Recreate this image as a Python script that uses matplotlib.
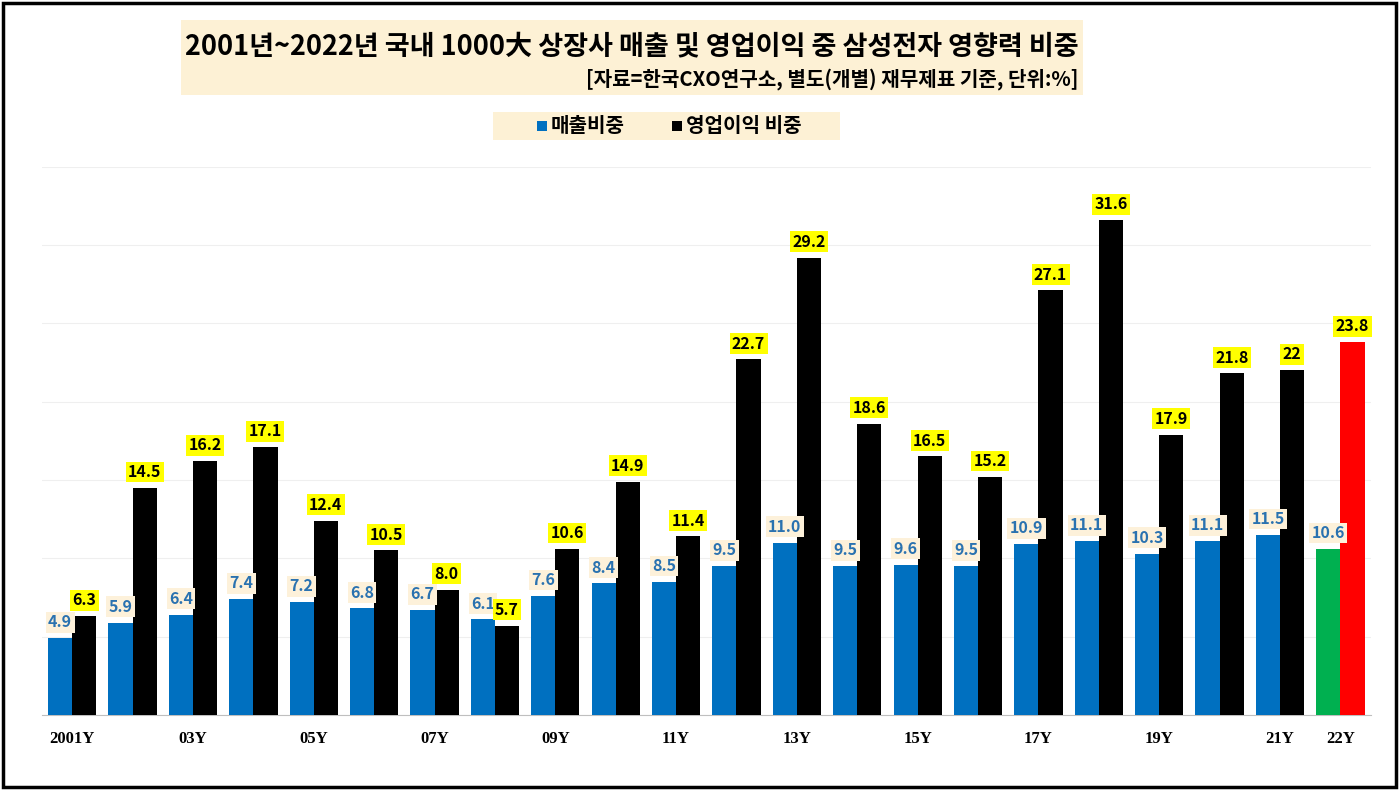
import matplotlib.pyplot as plt
from matplotlib.patches import Rectangle
import numpy as np

plt.rcParams['font.family'] = ['Noto Sans CJK KR', 'DejaVu Sans']

years = ['2001Y', '', '03Y', '', '05Y', '', '07Y', '', '09Y', '', '11Y', '',
         '13Y', '', '15Y', '', '17Y', '', '19Y', '', '21Y', '22Y']
sales_share = [4.9, 5.9, 6.4, 7.4, 7.2, 6.8, 6.7, 6.1, 7.6, 8.4, 8.5, 9.5,
               11.0, 9.5, 9.6, 9.5, 10.9, 11.1, 10.3, 11.1, 11.5, 10.6]
profit_share = [6.3, 14.5, 16.2, 17.1, 12.4, 10.5, 8.0, 5.7, 10.6, 14.9, 11.4, 22.7,
                29.2, 18.6, 16.5, 15.2, 27.1, 31.6, 17.9, 21.8, 22, 23.8]
sales_labels = ['4.9', '5.9', '6.4', '7.4', '7.2', '6.8', '6.7', '6.1', '7.6', '8.4', '8.5', '9.5',
                '11.0', '9.5', '9.6', '9.5', '10.9', '11.1', '10.3', '11.1', '11.5', '10.6']
profit_labels = ['6.3', '14.5', '16.2', '17.1', '12.4', '10.5', '8.0', '5.7', '10.6', '14.9', '11.4', '22.7',
                 '29.2', '18.6', '16.5', '15.2', '27.1', '31.6', '17.9', '21.8', '22', '23.8']

fig = plt.figure(figsize=(14, 7.9), dpi=100)
ax = fig.add_axes([0.03, 0.095, 0.949, 0.694])

x = np.arange(len(years))
w = 0.4
blue = ['#0070C0'] * (len(x) - 1) + ['#00B050']
black = ['#000000'] * (len(x) - 1) + ['#FF0000']

ax.bar(x - w / 2, sales_share, w, color=blue, zorder=3)
ax.bar(x + w / 2, profit_share, w, color=black, zorder=3)

for i in x:
    ax.text(i - w / 2, sales_share[i] + 0.5, sales_labels[i], ha='center', va='bottom',
            fontsize=11.5, fontweight='bold', color='#2A72B0', zorder=4,
            bbox=dict(boxstyle='square,pad=0.15', fc='#FDF1DA', ec='none'))
    ax.text(i + w / 2, profit_share[i] + 0.5, profit_labels[i], ha='center', va='bottom',
            fontsize=11.5, fontweight='bold', color='black', zorder=4,
            bbox=dict(boxstyle='square,pad=0.15', fc='#FFFF00', ec='none'))

ax.set_xlim(-0.5, 21.5)
ax.set_ylim(0, 35)
ax.set_yticks(np.arange(0, 36, 5))
ax.yaxis.grid(True, color='#EFEFEF', linewidth=0.8, zorder=0)
ax.tick_params(left=False, labelleft=False, bottom=False, pad=8)
ax.set_xticks(x)
ax.set_xticklabels(years, family='Liberation Serif', fontweight='bold', fontsize=12)
for s in ['top', 'right', 'left']:
    ax.spines[s].set_visible(False)
ax.spines['bottom'].set_color('#BFBFBF')

# title block
fig.patches.append(Rectangle((181 / 1400, 1 - 95 / 790), 902 / 1400, 75 / 790,
                             transform=fig.transFigure, fc='#FDF1D5', ec='none', zorder=0))
fig.text(632 / 1400, 1 - 46 / 790, '2001년~2022년 국내 1000大 상장사 매출 및 영업이익 중 삼성전자 영향력 비중',
         ha='center', va='center', fontsize=19.5, fontweight='bold')
fig.text(1078 / 1400, 1 - 79 / 790, '[자료=한국CXO연구소, 별도(개별) 재무제표 기준, 단위:%]',
         ha='right', va='center', fontsize=14.5, fontweight='bold')

# legend block
fig.patches.append(Rectangle((493 / 1400, 1 - 140 / 790), 347 / 1400, 28 / 790,
                             transform=fig.transFigure, fc='#FDF1D5', ec='none', zorder=0))
fig.patches.append(Rectangle((537 / 1400, 1 - 131 / 790), 10 / 1400, 10 / 790,
                             transform=fig.transFigure, fc='#0070C0', ec='none'))
fig.text(551 / 1400, 1 - 126 / 790, '매출비중', ha='left', va='center', fontsize=14.5, fontweight='bold')
fig.patches.append(Rectangle((672 / 1400, 1 - 131 / 790), 10 / 1400, 10 / 790,
                             transform=fig.transFigure, fc='#000000', ec='none'))
fig.text(686 / 1400, 1 - 126 / 790, '영업이익 비중', ha='left', va='center', fontsize=14.5, fontweight='bold')

# outer frame
fig.patches.append(Rectangle((3 / 1400, 3 / 790), 1393 / 1400, 784 / 790,
                             transform=fig.transFigure, fc='none', ec='black', lw=2.5))

fig.savefig('out.png', dpi=100)
